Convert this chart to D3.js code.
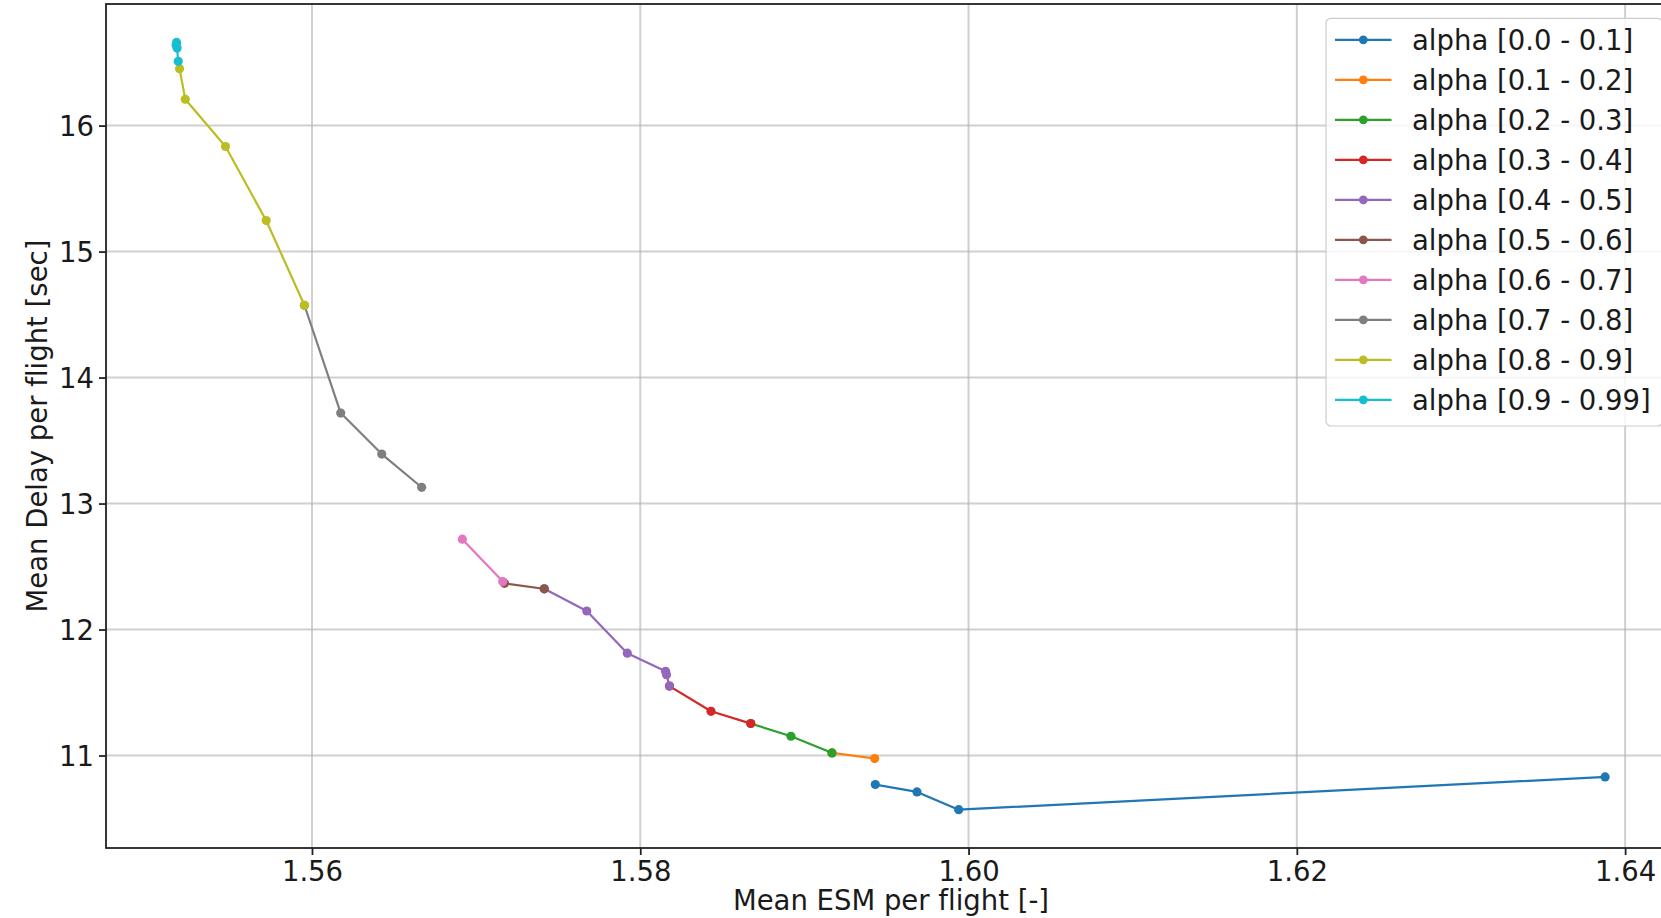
<!DOCTYPE html>
<html>
<head>
<meta charset="utf-8">
<script src="https://cdn.jsdelivr.net/npm/d3@7"></script>
<style>
  html, body { margin: 0; padding: 0; background: #ffffff; }
  svg { display: block; font-family: "DejaVu Sans", sans-serif; font-variant-ligatures: none; }
</style>
</head>
<body>
<svg id="chart" width="1661" height="918"></svg>
<script>
// ---------- data ----------
const seriesLabels = [
  "alpha [0.0 - 0.1]", "alpha [0.1 - 0.2]", "alpha [0.2 - 0.3]", "alpha [0.3 - 0.4]",
  "alpha [0.4 - 0.5]", "alpha [0.5 - 0.6]", "alpha [0.6 - 0.7]", "alpha [0.7 - 0.8]",
  "alpha [0.8 - 0.9]", "alpha [0.9 - 0.99]"
];
// Mean ESM per flight [-] for each series
const esmValues = [
  [1.59432, 1.59686, 1.59940, 1.63878],
  [1.59168, 1.59428],
  [1.58673, 1.58918, 1.59168],
  [1.58178, 1.58431, 1.58673],
  [1.57415, 1.57674, 1.57921, 1.58154, 1.58160, 1.58178],
  [1.57173, 1.57415],
  [1.56916, 1.57162],
  [1.55954, 1.56175, 1.56425, 1.56668],
  [1.55193, 1.55228, 1.55473, 1.55721, 1.55954],
  [1.55175, 1.55172, 1.55178, 1.55185]
];
// Mean Delay per flight [sec] for each series
const delayValues = [
  [10.770, 10.711, 10.570, 10.830],
  [11.021, 10.976],
  [11.254, 11.153, 11.021],
  [11.551, 11.351, 11.254],
  [12.323, 12.147, 11.812, 11.669, 11.642, 11.551],
  [12.367, 12.323],
  [12.717, 12.381],
  [14.574, 13.718, 13.393, 13.129],
  [16.452, 16.209, 15.834, 15.246, 14.574],
  [16.660, 16.640, 16.615, 16.510]
];
const xTicks = [1.56, 1.58, 1.60, 1.62, 1.64];
const yTicks = [11, 12, 13, 14, 15, 16];
const xDomain = [1.54745, 1.6431];
const yDomain = [10.266, 16.965];
const xLabel = "Mean ESM per flight [-]";
const yLabel = "Mean Delay per flight [sec]";

// ---------- layout ----------
const palette = d3.schemeCategory10;
const plot = { left: 106, right: 1676, top: 4, bottom: 848 };
const FS = 27.5;
const textColor = "#1a1a1a";

const svg = d3.select("#chart");
const x = d3.scaleLinear().domain(xDomain).range([plot.left, plot.right]);
const y = d3.scaleLinear().domain(yDomain).range([plot.bottom, plot.top]);

// grid
const grid = svg.append("g");
grid.selectAll("line.gx").data(xTicks).join("line")
  .attr("x1", d => x(d)).attr("x2", d => x(d))
  .attr("y1", plot.top).attr("y2", plot.bottom)
  .attr("stroke", "#b0b0b0").attr("stroke-opacity", 0.6).attr("stroke-width", 2);
grid.selectAll("line.gy").data(yTicks).join("line")
  .attr("x1", plot.left).attr("x2", plot.right)
  .attr("y1", d => y(d)).attr("y2", d => y(d))
  .attr("stroke", "#b0b0b0").attr("stroke-opacity", 0.6).attr("stroke-width", 2);

// series
const lineGen = d3.line().x(d => x(d[0])).y(d => y(d[1]));
seriesLabels.forEach((lab, i) => {
  const pts = esmValues[i].map((v, j) => [v, delayValues[i][j]]);
  const g = svg.append("g");
  g.append("path").attr("d", lineGen(pts))
    .attr("fill", "none").attr("stroke", palette[i]).attr("stroke-width", 2.2)
    .attr("stroke-linejoin", "round").attr("stroke-linecap", "square");
  g.selectAll("circle").data(pts).join("circle")
    .attr("cx", d => x(d[0])).attr("cy", d => y(d[1])).attr("r", 4.6)
    .attr("fill", palette[i]);
});

// axes
const xAxis = d3.axisBottom(x).tickValues(xTicks).tickFormat(d3.format(".2f"))
  .tickSize(7).tickPadding(6);
const gx = svg.append("g").attr("transform", `translate(0,${plot.bottom})`).call(xAxis);
gx.select(".domain").remove();
gx.selectAll(".tick line").attr("stroke", "#222").attr("stroke-width", 1.8);
gx.selectAll(".tick text").attr("font-size", FS).attr("fill", textColor)
  .attr("font-family", "DejaVu Sans").attr("dy", null).attr("y", 33);

const yAxis = d3.axisLeft(y).tickValues(yTicks).tickFormat(d3.format("d"))
  .tickSize(7).tickPadding(6);
const gy = svg.append("g").attr("transform", `translate(${plot.left},0)`).call(yAxis);
gy.select(".domain").remove();
gy.selectAll(".tick line").attr("stroke", "#222").attr("stroke-width", 1.8);
gy.selectAll(".tick text").attr("font-size", FS).attr("fill", textColor)
  .attr("font-family", "DejaVu Sans").attr("dy", "0.36em").attr("x", -12);

// spines
svg.append("rect")
  .attr("x", plot.left).attr("y", plot.top)
  .attr("width", plot.right - plot.left).attr("height", plot.bottom - plot.top)
  .attr("fill", "none").attr("stroke", "#222").attr("stroke-width", 1.8);

// axis labels
svg.append("text")
  .attr("x", (plot.left + plot.right) / 2).attr("y", 910)
  .attr("text-anchor", "middle").attr("font-size", FS).attr("fill", textColor)
  .text(xLabel);
svg.append("text")
  .attr("transform", `translate(47,${(plot.top + plot.bottom) / 2}) rotate(-90)`)
  .attr("text-anchor", "middle").attr("font-size", FS).attr("fill", textColor)
  .text(yLabel);

// legend
const legend = svg.append("g");
const rowY = d3.scaleLinear().domain([0, 1]).range([39.8, 79.8]);
legend.append("rect")
  .attr("x", 1326).attr("y", 18.3).attr("width", 1662.5 - 1326).attr("height", 426 - 18.3)
  .attr("rx", 5).attr("ry", 5)
  .attr("fill", "#ffffff").attr("fill-opacity", 0.8)
  .attr("stroke", "#cccccc").attr("stroke-width", 1.2);
seriesLabels.forEach((lab, i) => {
  const cy = rowY(i);
  legend.append("line").attr("x1", 1335).attr("x2", 1391.5).attr("y1", cy).attr("y2", cy)
    .attr("stroke", palette[i]).attr("stroke-width", 2.2);
  legend.append("circle").attr("cx", 1363.3).attr("cy", cy).attr("r", 4.4).attr("fill", palette[i]);
  legend.append("text").attr("x", 1412).attr("y", cy + 10)
    .attr("font-size", FS).attr("fill", textColor).text(lab);
});
</script>
</body>
</html>
